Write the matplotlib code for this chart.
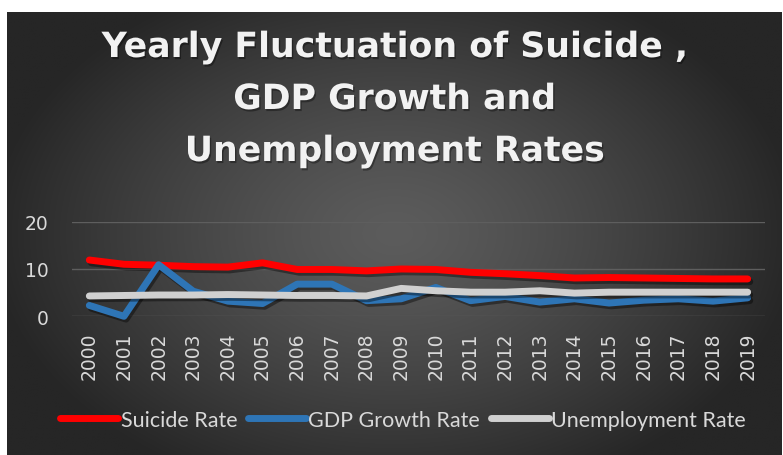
import numpy as np
import matplotlib
matplotlib.use("Agg")
import matplotlib.pyplot as plt
import matplotlib.patheffects as pe

years = [str(y) for y in range(2000, 2020)]
suicide_rate = [11.9, 11.0, 10.8, 10.5, 10.4, 11.3, 9.9, 9.9, 9.6, 10.0,
                9.9, 9.3, 9.0, 8.6, 8.1, 8.2, 8.1, 8.0, 7.9, 7.9]
gdp_growth = [2.3, 0.0, 10.9, 5.3, 3.2, 2.7, 6.8, 6.8, 3.3, 3.7,
              6.1, 3.3, 4.2, 3.0, 3.7, 2.8, 3.4, 3.7, 3.2, 3.9]
unemployment = [4.3, 4.4, 4.5, 4.5, 4.6, 4.5, 4.4, 4.4, 4.3, 5.9,
                5.4, 5.1, 5.1, 5.4, 4.9, 5.1, 5.1, 5.1, 5.1, 5.1]
series_names = ["Suicide Rate", "GDP Growth Rate", "Unemployment Rate"]
yticks = [0, 10, 20]
title_lines = ["Yearly Fluctuation of Suicide ,", "GDP Growth and", "Unemployment Rates"]

W, H = 783, 456
fig = plt.figure(figsize=(W / 100, H / 100), dpi=100, facecolor="white")

# background panel with radial gradient
px0, py0, px1, py1 = 7, 13, 782, 456
bg = fig.add_axes([px0 / W, 1 - py1 / H, (px1 - px0) / W, (py1 - py0) / H])
gx = np.linspace(-1, 1, 400)
gy = np.linspace(-1, 1, 240)
X, Y = np.meshgrid(gx, gy)
R = np.sqrt((X / 1.05) ** 2 + (Y / 1.25) ** 2)
R = np.clip(R, 0, 1)
lo, hi = 38, 92
val = (hi - (hi - lo) * R ** 1.3) / 255.0
img = np.dstack([val, val, val])
bg.imshow(img, aspect="auto", extent=[0, 1, 0, 1], interpolation="bilinear")
bg.set_axis_off()

# plot axes
left, right = 72, 765
y0px, y20px = 317.3, 222.7
ax = fig.add_axes([left / W, 1 - y0px / H, (right - left) / W, (y0px - y20px) / H])
ax.set_facecolor("none")
x = np.arange(len(years))
colors = ["#FF0000", "#2E75B6", "#D0D0D0"]
shadow = [pe.SimpleLineShadow(offset=(1.5, -2), shadow_color="black", alpha=0.4), pe.Normal()]
for vals, c, name in zip([suicide_rate, gdp_growth, unemployment], colors, series_names):
    ax.plot(x, vals, color=c, lw=5, solid_capstyle="round", solid_joinstyle="round",
            label=name, clip_on=False, path_effects=shadow)
ax.set_xlim(-0.5, len(years) - 0.5)
ax.set_ylim(0, 20)
ax.set_yticks(yticks)
ax.set_xticks(x)
ax.set_xticklabels(years, rotation=90)
for s in ax.spines.values():
    s.set_visible(False)
ax.grid(axis="y", color="#5E5E5E", lw=1.0)
ax.set_axisbelow(True)
ax.tick_params(axis="both", length=0, colors="#D9D9D9", labelsize=13.5)
ax.tick_params(axis="y", pad=17)
ax.tick_params(axis="x", pad=11)

# title (three centred lines)
title_shadow = [pe.withSimplePatchShadow(offset=(1, -1.5), shadow_rgbFace="black", alpha=0.35)]
for line, base in zip(title_lines, [58, 110, 162]):
    fig.text(395 / W, 1 - base / H, line, ha="center", va="baseline", color="#F2F2F2",
             fontsize=25, fontweight="bold", family="DejaVu Sans",
             path_effects=title_shadow)

# legend
leg = fig.legend(loc="center", bbox_to_anchor=(403 / W, 1 - 421 / H), ncol=3, frameon=False,
                 prop={"family": "Lato", "size": 15.5}, labelcolor="#D9D9D9",
                 handlelength=2.7, handletextpad=0.1, columnspacing=0.5)
for h in leg.legend_handles:
    h.set_path_effects([])

fig.savefig("out.png", dpi=100, facecolor="white")
